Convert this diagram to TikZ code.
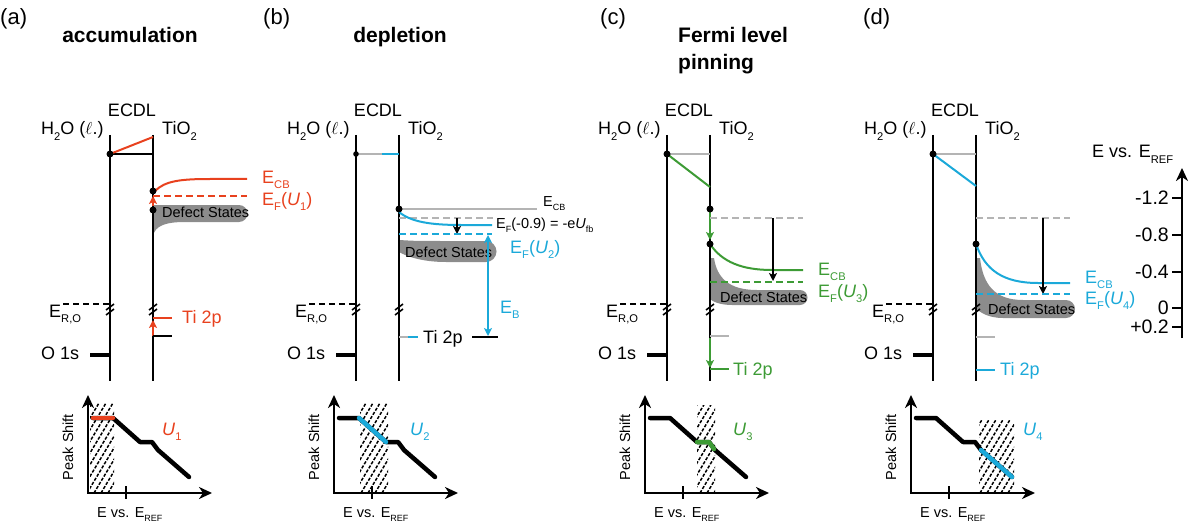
\documentclass[tikz,border=0pt]{standalone}
\usepackage{graphicx}
\usepackage{fontspec}
\setmainfont{Liberation Sans}
\usetikzlibrary{arrows.meta}
\definecolor{ered}{HTML}{E8411E}
\definecolor{eblue}{HTML}{1BA9D9}
\definecolor{egreen}{HTML}{3D9B35}
\definecolor{lgray}{HTML}{B4B4B4}
\definecolor{dgray}{HTML}{8C8C8C}
\newcommand{\sbs}[1]{\raisebox{-0.32em}{\scalebox{0.62}{#1}}}
\tikzset{
  lbl/.style={font=\fontsize{18}{20}\selectfont, inner sep=0pt, anchor=base west},
  small/.style={font=\fontsize{14.5}{16}\selectfont, inner sep=0pt, anchor=base west},
  ttl/.style={font=\fontsize{21}{24}\selectfont\bfseries, inner sep=0pt, anchor=base west},
  plbl/.style={font=\fontsize{22}{24}\selectfont, inner sep=0pt, anchor=base west},
  vline/.style={line width=2.5pt},
  lev/.style={line width=2pt},
  dlev/.style={line width=2pt, dash pattern=on 7pt off 4pt},
  o1s/.style={line width=4.5pt},
  axisline/.style={line width=2.5pt, -{Stealth[length=13pt,width=12pt,inset=4pt]}},
  tickline/.style={line width=2pt},
  fat/.style={line width=4.5pt, line cap=round, line join=round},
  hatchline/.style={line width=1.5pt, dash pattern=on 3.2pt off 1.6pt},
  defect/.style={fill=dgray},
  smallarrow/.style={line width=2pt, -{Stealth[length=8pt,width=8pt,inset=2pt]}},
  bothways/.style={line width=2pt, {Stealth[length=8pt,width=8pt,inset=2pt]}-{Stealth[length=8pt,width=8pt,inset=2pt]}},
}
\newcommand{\breakmark}[1]{%
  \draw[line width=1.6pt] (#1-4,310) -- (#1+4,304);
  \draw[line width=1.6pt] (#1-4,315) -- (#1+4,309);}
\newcommand{\hatchbox}[4]{%
  \begin{scope}
    \clip (#1,#2) rectangle (#3,#4);
    \foreach \i in {-60,-53,...,200} {\draw[hatchline] (\i,#4) -- ++(60,-100);}
  \end{scope}}
\newcommand{\panelbase}[1]{%
  \node[lbl] (#1h2o) at (41,135) {H\sbs{2}O ($\ell$.)};
  \node[lbl,anchor=base] (#1ecdl) at (132,117) {ECDL};
  \node[lbl] (#1tio) at (162,135) {TiO\sbs{2}};
  \draw[vline] (110,135) -- (110,381);
  \draw[vline] (153,135) -- (153,381);
  \draw[lev, dash pattern=on 6pt off 4pt] (63,304) -- (110,304);
  \node[lbl] (#1ero) at (49,317) {E\sbs{R,O}};
  \breakmark{110}\breakmark{153}
  \draw[o1s] (90,355) -- (110,355);
  \node[lbl] (#1o1s) at (41,359) {O 1s};
  \draw[axisline] (88,493) -- (88,395);
  \draw[axisline] (87,493) -- (212,493);
  \draw[tickline] (126,486) -- (126,499);
  \node[small, rotate=90, anchor=center] (#1ps) at (68,447) {Peak Shift};
  \node[small] (#1evs) at (97,517) {E vs. E\sbs{REF}};}
\newcommand{\peakcurve}{\draw[fat] (93,418) -- (113,418) -- (140,442) -- (152,442) -- (158,450) -- (189,477);}
\begin{document}
\begin{tikzpicture}[x=1pt,y=-1pt]
\useasboundingbox (0,0) rectangle (1200,532);
% titles
\node[plbl] (la) at (0,25) {(a)};
\node[plbl] (lb) at (263,25) {(b)};
\node[plbl] (lc) at (600,25) {(c)};
\node[plbl] (ld) at (863,25) {(d)};
\node[ttl,anchor=base] (ta) at (130,43) {accumulation};
\node[ttl,anchor=base] (tb) at (400,43) {depletion};
\node[ttl] (tc1) at (678,43) {Fermi level};
\node[ttl] (tc2) at (678,70) {pinning};

% ---------------- panel a
\begin{scope}
  \fill[defect] (153,205) -- (239,205) arc[start angle=-90,end angle=90,radius=8.5] -- (185,222) .. controls (165,222) and (155,226) .. (153,236) -- cycle;
  \node[small] (ads) at (162,217) {Defect States};
  \hatchbox{90}{403}{114}{493}
  \panelbase{a}
  \peakcurve
  \draw[fat, ered] (93,418) -- (113,418);
  \node[lbl, ered] (au) at (162,435) {\textit{U}\sbs{1}};
  \draw[lev] (110,154) -- (153,154);
  \draw[lev, ered] (110,154) -- (153,137);
  \fill (110,154) circle (3.5);
  \draw[lev, ered] (155,191) .. controls (165,181) and (180,179) .. (210,179) -- (247,179);
  \draw[dlev, ered] (153,196) -- (247,196);
  \draw[smallarrow, ered] (153,206) -- (153,196);
  \fill (153,191) circle (3.5);
  \fill (153,210) circle (3.5);
  \node[lbl, ered] (aecb) at (262,183) {E\sbs{CB}};
  \node[lbl, ered] (aef) at (262,205) {E\sbs{F}(\textit{U}\sbs{1})};
  \draw[lev, ered] (153,318) -- (172,318);
  \draw[smallarrow, ered] (153,336) -- (153,320);
  \draw[lev] (153,336) -- (172,336);
  \node[lbl, ered] (ati) at (182,323) {Ti 2p};
\end{scope}

% ---------------- panel b
\begin{scope}[shift={(246,0)}]
  \fill[defect] (153,240) .. controls (170,241) .. (200,241) -- (240,241) arc[start angle=-90,end angle=90,radius=10.5] -- (200,262) .. controls (175,262) and (160,256) .. (153,252) -- cycle;
  \node[small] (bds) at (159,257) {Defect States};
  \hatchbox{114}{403}{142}{493}
  \panelbase{b}
  \peakcurve
  \draw[fat, eblue] (113,418) -- (140,442);
  \node[lbl, eblue] (bu) at (164,435) {\textit{U}\sbs{2}};
  \draw[lev, lgray] (110,154) -- (136,154);
  \draw[lev, eblue] (136,154) -- (153,154);
  \fill (110,154) circle (2.8);
  \draw[lev, lgray] (153,209) -- (291,209);
  \node[small] (becb) at (297,206) {E\sbs{CB}};
  \draw[dlev, lgray] (153,218) -- (247,218);
  \draw[lev, eblue] (153,212) .. controls (165,222) and (185,225) .. (215,225) -- (246,225);
  \draw[smallarrow] (211,218) -- (211,234);
  \draw[dlev, eblue] (153,234) -- (246,234);
  \fill (153,209) circle (3.5);
  \node[small] (bef) at (250,228) {E\sbs{F}(-0.9) = -e\textit{U}\sbs{fb}};
  \node[lbl, eblue] (befu) at (264,253) {E\sbs{F}(\textit{U}\sbs{2})};
  \draw[bothways, eblue] (242,235) -- (242,336);
  \node[lbl, eblue] (beb) at (254,313) {E\sbs{B}};
  \draw[lev, lgray] (153,337) -- (162,337);
  \draw[lev, eblue] (162,337) -- (172,337);
  \node[lbl] (bti) at (177,343) {Ti 2p};
  \draw[lev] (226,337) -- (252,337);
\end{scope}

% ---------------- panel c
\begin{scope}[shift={(557,0)}]
  \fill[defect] (153,258) -- (157,258) .. controls (160,278) and (172,290) .. (200,290) -- (243,290) arc[start angle=-90,end angle=90,radius=7.5] -- (175,305) .. controls (162,305) and (155,301) .. (153,299) -- cycle;
  \node[small] (cds) at (163,302) {Defect States};
  \hatchbox{140}{405}{158}{493}
  \panelbase{c}
  \peakcurve
  \draw[fat, egreen] (140,442) -- (152,442) -- (157,449);
  \node[lbl, egreen] (cu) at (176,435) {\textit{U}\sbs{3}};
  \draw[lev, lgray] (110,154) -- (153,154);
  \draw[lev, egreen] (110,154) -- (153,187);
  \fill (110,154) circle (3.5);
  \draw[smallarrow, egreen] (153,212) -- (153,240);
  \draw[dlev, lgray] (153,218) -- (246,218);
  \draw[lev, egreen] (153,244) .. controls (165,262) and (185,270) .. (215,270) -- (246,270);
  \draw[smallarrow] (216,218) -- (216,281);
  \draw[dlev, egreen] (153,282) -- (246,282);
  \fill (153,209) circle (3.5);
  \fill (153,244) circle (3.5);
  \node[lbl, egreen] (cecb) at (261,275) {E\sbs{CB}};
  \node[lbl, egreen] (cef) at (261,297) {E\sbs{F}(\textit{U}\sbs{3})};
  \draw[lev, lgray] (153,336) -- (172,336);
  \draw[smallarrow, egreen] (153,338) -- (153,368);
  \draw[lev, egreen] (153,369) -- (172,369);
  \node[lbl, egreen] (cti) at (176,375) {Ti 2p};
\end{scope}

% ---------------- panel d
\begin{scope}[shift={(823,0)}]
  \fill[defect] (153,258) -- (157,258) .. controls (160,285) and (172,300) .. (200,300) -- (243,300) arc[start angle=-90,end angle=90,radius=9] -- (180,318) .. controls (165,318) and (156,312) .. (153,308) -- cycle;
  \node[small] (dds) at (165,314) {Defect States};
  \hatchbox{156}{420}{191}{493}
  \panelbase{d}
  \peakcurve
  \draw[fat, eblue] (158,450) -- (189,477);
  \node[lbl, eblue] (du) at (200,435) {\textit{U}\sbs{4}};
  \draw[lev, lgray] (110,154) -- (153,154);
  \draw[lev, eblue] (110,154) -- (153,186);
  \fill (110,154) circle (3.5);
  \draw[dlev, lgray] (153,218) -- (247,218);
  \draw[lev, eblue] (153,244) .. controls (162,270) and (180,283) .. (215,283) -- (247,283);
  \draw[smallarrow] (220,218) -- (220,294);
  \draw[dlev, eblue] (153,294) -- (247,294);
  \fill (153,244) circle (3.5);
  \node[lbl, eblue] (decb) at (262,283) {E\sbs{CB}};
  \node[lbl, eblue] (def) at (262,304) {E\sbs{F}(\textit{U}\sbs{4})};
  \draw[lev, lgray] (153,337) -- (172,337);
  \draw[lev, eblue] (153,370) -- (172,370);
  \node[lbl, eblue] (dti) at (177,375) {Ti 2p};
\end{scope}

% ---------------- energy axis
\draw[axisline] (1182,338) -- (1182,168);
\foreach \yy/\tx [count=\k] in {198/-1.2,235/-0.8,272/-0.4,308/0,327/+0.2} {
  \draw[tickline] (1172,\yy) -- (1182,\yy);
  \node[font=\fontsize{19.5}{21}\selectfont, inner sep=0pt, anchor=east] (tick\k) at (1169,\yy) {\tx};
}
\node[lbl] (eaxis) at (1092,158) {E vs. E\sbs{REF}};
\end{tikzpicture}
\end{document}
